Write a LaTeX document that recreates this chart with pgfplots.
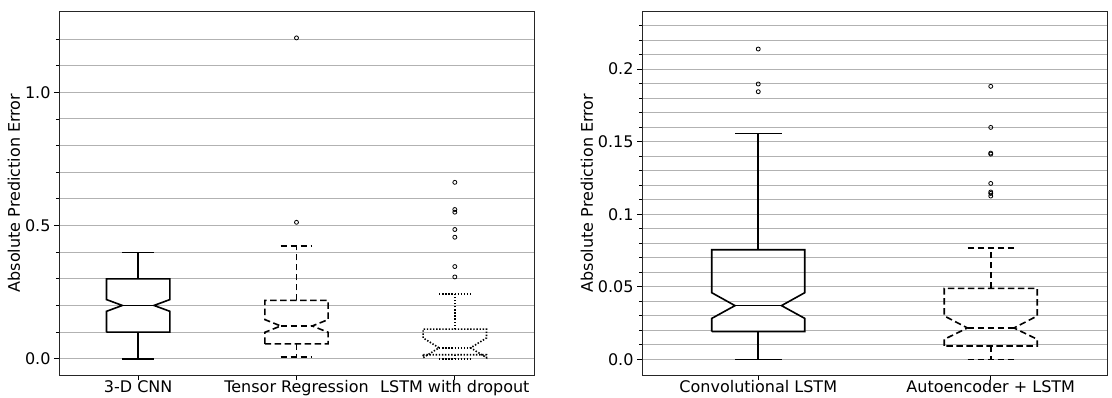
\documentclass[border=0pt]{standalone}
\usepackage{fontspec}
\setmainfont{DejaVu Sans}
\usepackage{pgfplots}
\pgfplotsset{compat=1.18}
\begin{document}
\begin{tikzpicture}
\useasboundingbox (0pt,0pt) rectangle (1112pt,397pt);
\pgfplotsset{
 panel/.style={
  scale only axis, height=364pt, anchor=south west,
  font=\fontsize{16}{19}\selectfont,
  ticklabel style={font=\fontsize{16}{19}\selectfont},
  xticklabel style={yshift=3pt},
  /pgf/number format/assume math mode=true,
  axis line style={black!85, line width=0.9pt},
  ymajorgrids, yminorgrids,
  major grid style={black!30, line width=0.9pt},
  minor grid style={black!30, line width=0.9pt},
  tick align=outside, tick pos=left,
  major tick length=5pt, minor tick length=3pt,
  every tick/.style={black, line width=0.8pt},
  ylabel={Absolute Prediction Error},
  ylabel style={yshift=-2pt},
 },
 bx/.style={black, line width=1.6pt, no marks},
 dsh/.style={dash pattern=on 6.5pt off 3.5pt},
 dtt/.style={dash pattern=on 1.4pt off 1.7pt},
 fl/.style={only marks, mark=o, mark size=2pt, black, mark options={line width=0.8pt, solid}},
}
% ---------------- left panel ----------------
\begin{axis}[panel, at={(59pt,22pt)}, width=475pt,
  xmin=0.5, xmax=3.5, ymin=-0.061, ymax=1.305,
  xtick={1,2,3}, xticklabels={3-D CNN, Tensor Regression, LSTM with dropout},
  ytick={0,0.5,1.0}, yticklabels={0.0,0.5,1.0},
  minor ytick={0.1,0.2,0.3,0.4,0.6,0.7,0.8,0.9,1.1,1.2}]
% 3-D CNN (solid)
\addplot[bx] coordinates {(0.8,0.100) (0.8,0.178) (0.9,0.200) (0.8,0.222) (0.8,0.300) (1.2,0.300) (1.2,0.222) (1.1,0.200) (1.2,0.178) (1.2,0.100) (0.8,0.100)};
\addplot[bx] coordinates {(0.9,0.200) (1.1,0.200)};
\addplot[bx] coordinates {(1,0.300) (1,0.398)};
\addplot[bx] coordinates {(1,0.100) (1,0.000)};
\addplot[bx] coordinates {(0.9,0.398) (1.1,0.398)};
\addplot[bx] coordinates {(0.9,0.000) (1.1,0.000)};
% Tensor Regression (dashed)
\addplot[bx,dsh] coordinates {(1.8,0.056) (1.8,0.099) (1.9,0.123) (1.8,0.147) (1.8,0.219) (2.2,0.219) (2.2,0.147) (2.1,0.123) (2.2,0.099) (2.2,0.056) (1.8,0.056)};
\addplot[bx,dsh] coordinates {(1.9,0.123) (2.1,0.123)};
\addplot[bx,dsh] coordinates {(2,0.219) (2,0.424)};
\addplot[bx,dsh] coordinates {(2,0.056) (2,0.006)};
\addplot[bx,dsh] coordinates {(1.9,0.424) (2.1,0.424)};
\addplot[bx,dsh] coordinates {(1.9,0.006) (2.1,0.006)};
\addplot[fl] coordinates {(2,0.512) (2,1.204)};
% LSTM with dropout (dotted)
\addplot[bx,dtt] coordinates {(2.8,0.015) (2.8,0.004) (2.9,0.041) (2.8,0.078) (2.8,0.111) (3.2,0.111) (3.2,0.078) (3.1,0.041) (3.2,0.004) (3.2,0.015) (2.8,0.015)};
\addplot[bx,dtt] coordinates {(2.9,0.041) (3.1,0.041)};
\addplot[bx,dtt] coordinates {(3,0.111) (3,0.244)};
\addplot[bx,dtt] coordinates {(3,0.015) (3,0.000)};
\addplot[bx,dtt] coordinates {(2.9,0.244) (3.1,0.244)};
\addplot[bx,dtt] coordinates {(2.9,0.000) (3.1,0.000)};
\addplot[fl] coordinates {(3,0.307) (3,0.346) (3,0.456) (3,0.485) (3,0.550) (3,0.560) (3,0.662)};
\end{axis}
% ---------------- right panel ----------------
\begin{axis}[panel, at={(642pt,22pt)}, width=465pt,
  xmin=0.5, xmax=2.5, ymin=-0.0108, ymax=0.24,
  xtick={1,2}, xticklabels={Convolutional LSTM, Autoencoder + LSTM},
  ytick={0,0.05,0.1,0.15,0.2}, yticklabels={0.0,0.05,0.1,0.15,0.2},
  minor ytick={0.01,0.02,0.03,0.04,0.06,0.07,0.08,0.09,0.11,0.12,0.13,0.14,0.16,0.17,0.18,0.19,0.21,0.22,0.23}]
% Convolutional LSTM (solid)
\addplot[bx] coordinates {(0.8,0.0191) (0.8,0.0282) (0.9,0.0370) (0.8,0.0459) (0.8,0.0755) (1.2,0.0755) (1.2,0.0459) (1.1,0.0370) (1.2,0.0282) (1.2,0.0191) (0.8,0.0191)};
\addplot[bx] coordinates {(0.9,0.0370) (1.1,0.0370)};
\addplot[bx] coordinates {(1,0.0755) (1,0.1555)};
\addplot[bx] coordinates {(1,0.0191) (1,0.0000)};
\addplot[bx] coordinates {(0.9,0.1555) (1.1,0.1555)};
\addplot[bx] coordinates {(0.9,0.0000) (1.1,0.0000)};
\addplot[fl] coordinates {(1,0.1844) (1,0.1897) (1,0.2138)};
% Autoencoder + LSTM (dashed)
\addplot[bx,dsh] coordinates {(1.8,0.0092) (1.8,0.0138) (1.9,0.0216) (1.8,0.0299) (1.8,0.0489) (2.2,0.0489) (2.2,0.0299) (2.1,0.0216) (2.2,0.0138) (2.2,0.0092) (1.8,0.0092)};
\addplot[bx,dsh] coordinates {(1.9,0.0216) (2.1,0.0216)};
\addplot[bx,dsh] coordinates {(2,0.0489) (2,0.0769)};
\addplot[bx,dsh] coordinates {(2,0.0092) (2,0.0000)};
\addplot[bx,dsh] coordinates {(1.9,0.0769) (2.1,0.0769)};
\addplot[bx,dsh] coordinates {(1.9,0.0000) (2.1,0.0000)};
\addplot[fl] coordinates {(2,0.1125) (2,0.1143) (2,0.1153) (2,0.1212) (2,0.1414) (2,0.1421) (2,0.1598) (2,0.1881)};
\end{axis}
\end{tikzpicture}
\end{document}
